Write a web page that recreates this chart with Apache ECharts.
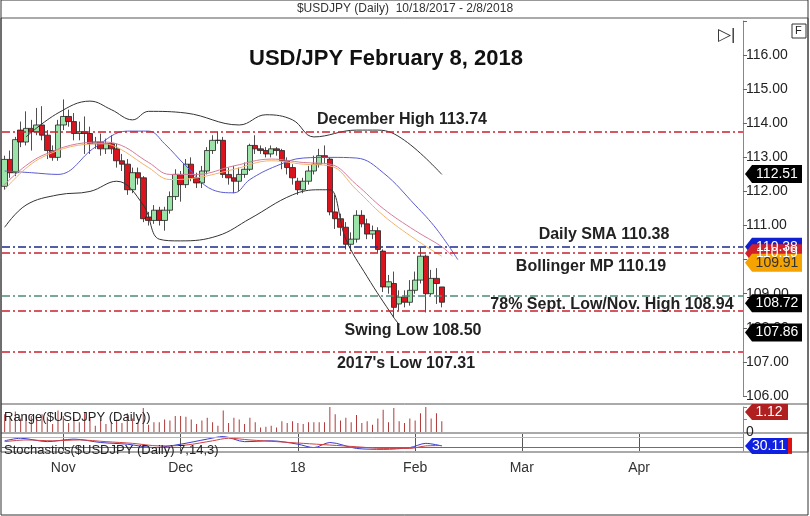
<!DOCTYPE html>
<html><head><meta charset="utf-8">
<script src="https://cdn.jsdelivr.net/npm/echarts@6/dist/echarts.min.js"></script>
<style>html,body{margin:0;padding:0;background:#fff}#c{width:810px;height:516px}</style>
</head><body><div id="c"></div>
<script>
// [open, close, low, high]
const candles = [
[112.15,112.94,112.05,113.05],[112.94,112.55,112.40,113.20],[112.55,113.52,112.45,113.60],[113.80,113.45,113.30,114.05],
[113.45,113.85,113.35,114.35],[113.85,113.75,113.20,114.10],[113.75,113.95,113.65,114.45],[113.95,113.65,113.50,114.50],
[113.65,113.20,112.95,113.80],[113.20,113.00,112.90,113.35],[113.00,113.95,112.90,114.10],[113.95,114.20,113.80,114.70],
[114.20,114.05,113.90,114.40],[114.05,113.70,113.50,114.30],[113.70,113.75,113.50,114.05],[113.75,113.70,113.10,114.20],
[113.70,113.40,113.10,113.90],[113.40,113.45,113.25,113.60],[113.45,113.25,113.05,113.70],[113.25,113.40,113.10,113.55],
[113.40,113.25,113.10,113.65],[113.25,112.90,112.70,113.40],[112.90,112.80,112.60,113.10],[112.80,112.05,111.90,112.95],
[112.05,112.55,111.95,112.70],[112.55,112.40,112.20,112.70],[112.40,111.20,111.10,112.45],[111.25,111.15,111.00,111.40],
[111.15,111.45,111.05,111.60],[111.45,111.15,111.00,111.55],[111.15,111.45,110.85,111.55],[111.45,111.85,111.35,112.00],
[111.85,112.50,111.75,112.65],[112.50,112.20,111.70,112.60],[112.20,112.80,112.10,112.95],[112.80,112.40,112.30,113.00],
[112.40,112.25,112.10,112.55],[112.25,112.60,112.10,112.75],[112.60,113.20,112.50,113.30],[113.20,113.50,113.10,113.65],
[113.50,113.50,113.40,113.75],[113.50,112.50,112.40,113.60],[112.50,112.40,112.20,112.70],[112.40,112.30,111.95,112.75],
[112.30,112.50,112.00,112.70],[112.50,112.65,112.40,112.85],[112.65,113.35,112.60,113.40],[113.35,113.25,113.10,113.65],
[113.25,113.20,113.10,113.35],[113.20,113.10,113.00,113.30],[113.10,113.25,113.00,113.35],[113.25,113.20,113.05,113.30],
[113.20,112.90,112.65,113.25],[112.90,112.70,112.50,113.00],[112.70,112.40,112.20,112.80],[112.30,112.05,111.90,112.40],
[112.05,112.30,111.95,112.40],[112.30,112.60,112.20,112.75],[112.60,112.80,112.50,113.05],[112.80,113.05,112.70,113.25],
[113.05,113.00,112.80,113.35],[112.95,111.40,111.30,113.00],[111.40,111.20,110.90,111.90],[111.20,110.95,110.70,111.35],
[110.95,110.45,110.30,111.10],[110.45,110.60,110.25,110.80],[110.60,111.30,110.50,111.45],[111.30,111.05,110.95,111.45],
[111.05,110.75,110.60,111.20],[110.75,110.85,110.60,111.00],[110.85,110.30,110.20,110.95],[110.25,109.20,109.05,110.30],
[109.20,109.35,109.00,109.55],[109.30,108.60,108.30,109.65],[108.70,108.90,108.50,109.10],[108.90,108.75,108.60,109.10],
[108.75,109.10,108.65,109.40],[109.10,109.40,109.00,109.65],[109.40,110.10,109.30,110.35],[110.10,109.00,108.45,110.15],
[109.00,109.45,108.95,109.70],[109.45,109.30,108.70,109.75],[109.20,108.75,108.60,109.20]
];
// sampled indicator points [index, value]
const bbUpper = [[4,113.6],[10,114.3],[16,114.65],[20,114.4],[24,114.1],[27,114.35],[34,114.3],[44,113.95],[49,114.25],[54,114.1],[58,113.6],[66,113.8],[70,113.8],[75,113.5],[82,112.5]];
const bbLower = [[0,110.95],[4,111.6],[10,111.9],[16,112.0],[21,112.3],[26,111.6],[29,110.6],[33,110.55],[40,110.7],[46,111.2],[54,111.9],[59,112.05],[61,112.05],[64,110.6],[68,109.5],[73,108.3],[74,108.1]];
const bbMid = [[0,112.6],[5,112.55],[10,112.5],[17,113.3],[23,113.77],[27,113.77],[30,113.4],[34,112.75],[39,112.05],[43,111.96],[46,112.35],[51,112.75],[56,112.98],[61,113.0],[66,112.98],[71,112.55],[77,111.6],[81,110.9],[85,110.0]];
const emaFast = [[0,112.05],[7,113.0],[18,113.4],[21,113.3],[27,112.7],[31,112.35],[36,112.4],[43,112.65],[50,112.9],[56,112.8],[61,112.75],[66,112.05],[71,111.3],[77,110.6],[82,110.1]];
const emaSlow = [[0,112.2],[7,113.05],[18,113.45],[21,113.4],[27,112.85],[31,112.5],[36,112.5],[43,112.75],[50,112.95],[56,112.85],[61,112.8],[66,112.2],[71,111.5],[77,110.85],[82,110.38],[84,110.1]];
const stochK = [[0,60],[3,75],[8,55],[13,70],[18,50],[23,40],[28,20],[33,40],[38,70],[41,85],[45,55],[50,60],[55,40],[58,20],[61,50],[66,15],[71,10],[76,20],[79,45],[82,30]];
const stochD = [[0,55],[4,65],[9,60],[14,65],[19,55],[24,45],[29,30],[34,35],[39,60],[42,75],[46,65],[51,55],[56,45],[61,35],[66,25],[71,15],[76,15],[79,30],[82,32]];
const levels = [
 {v:113.74,c:'#cc1f2b',t:'December High 113.74',x:402,y:120},
 {v:110.38,c:'#1a2a8a',t:'Daily SMA 110.38',x:604,y:235},
 {v:110.19,c:'#cc1f2b',t:'Bollinger MP 110.19',x:591,y:267},
 {v:108.94,c:'#4f8a78',t:'78% Sept. Low/Nov. High 108.94',x:612,y:305},
 {v:108.50,c:'#cc1f2b',t:'Swing Low 108.50',x:413,y:331},
 {v:107.31,c:'#cc1f2b',t:"2017's Low 107.31",x:406,y:364}
];
const tags = [
 {v:112.51,bg:'#000',fg:'#fff'},{v:110.38,bg:'#1020d0',fg:'#fff'},{v:110.19,bg:'#d0202a',fg:'#fff'},
 {v:109.91,bg:'#f5a300',fg:'#333'},{v:108.72,bg:'#000',fg:'#fff'},{v:107.86,bg:'#000',fg:'#fff'}
];
const monthLabels = {'2017-11-01':'Nov','2017-12-01':'Dec','2018-01-02':'18','2018-02-01':'Feb','2018-03-01':'Mar','2018-04-02':'Apr'};

const dates=[]; {let d=new Date(Date.UTC(2017,9,17)); const end=Date.UTC(2018,3,27);
 while(d.getTime()<=end){const w=d.getUTCDay(); if(w!==0&&w!==6) dates.push(d.toISOString().slice(0,10)); d=new Date(d.getTime()+86400000);}}
const pts = a => a.map(p=>[dates[p[0]],p[1]]);
const rangeVals = candles.map(c=>+(c[3]-c[2]).toFixed(2));

const chart=echarts.init(document.getElementById('c'),null,{renderer:'canvas'});
const dd=[8,3,2,3];
const gl={left:2,right:67};
const xBase={type:'category',data:dates,boundaryGap:true,axisLine:{show:false},axisTick:{show:false},axisLabel:{show:false},splitLine:{show:false}};
const F='Liberation Sans';
chart.setOption({
 animation:false,
 title:{text:'USD/JPY February 8, 2018',left:381,top:43,textAlign:'center',textStyle:{fontFamily:F,fontWeight:'bold',fontSize:22,color:'#111'}},
 grid:[{...gl,top:21,height:375},{...gl,top:407,height:25},{...gl,top:434,height:17}],
 xAxis:[{...xBase,gridIndex:0},{...xBase,gridIndex:1},{...xBase,gridIndex:2,
   axisTick:{show:true,alignWithLabel:true,interval:(i,v)=>!!monthLabels[v],length:-17,lineStyle:{color:'#555'}},
   axisLabel:{show:true,interval:(i,v)=>!!monthLabels[v],formatter:v=>monthLabels[v]||'',color:'#333',fontFamily:F,fontSize:14,margin:10}}],
 yAxis:[
  {type:'value',gridIndex:0,position:'right',min:106,max:117,interval:1,
   axisLine:{show:true,lineStyle:{color:'#888'}},axisTick:{show:true,length:4,lineStyle:{color:'#666'}},splitLine:{show:false},
   axisLabel:{formatter:v=>v>=116.5?'':v.toFixed(2),color:'#222',fontFamily:F,fontSize:14,margin:3}},
  {type:'value',gridIndex:1,position:'right',min:0,max:1.4,interval:0.7,axisLine:{show:true,lineStyle:{color:'#888'}},
   axisTick:{show:true,length:4},splitLine:{show:false},axisLabel:{formatter:v=>v===0?'0':'',color:'#222',fontSize:14,fontFamily:F,margin:3}},
  {type:'value',gridIndex:2,position:'right',min:0,max:100,axisLine:{show:true,lineStyle:{color:'#888'}},axisTick:{show:false},axisLabel:{show:false},
   splitLine:{show:false}}
 ],
 series:[
  {type:'candlestick',xAxisIndex:0,yAxisIndex:0,data:candles,barWidth:6,
   itemStyle:{color:'#9be3a8',color0:'#d9141f',borderColor:'#222',borderColor0:'#222',borderWidth:0.8},
   markLine:{symbol:'none',silent:true,label:{show:false},
    data:levels.map(l=>({yAxis:l.v,lineStyle:{color:l.c,type:dd,width:1.6}}))}},
  {type:'line',data:pts(bbUpper),smooth:0.4,symbol:'none',lineStyle:{color:'#333',width:1}},
  {type:'line',data:pts(bbLower),smooth:0.4,symbol:'none',lineStyle:{color:'#333',width:1}},
  {type:'line',data:pts(bbMid),smooth:0.4,symbol:'none',lineStyle:{color:'#5a5ad0',width:1}},
  {type:'line',data:pts(emaFast),smooth:0.4,symbol:'none',lineStyle:{color:'#f2b36a',width:1}},
  {type:'line',data:pts(emaSlow),smooth:0.4,symbol:'none',lineStyle:{color:'#d67a9a',width:1}},
  {type:'bar',xAxisIndex:1,yAxisIndex:1,data:rangeVals,barWidth:1,itemStyle:{color:'#b03a3a'}},
  {type:'line',xAxisIndex:2,yAxisIndex:2,data:pts(stochK),smooth:0.3,symbol:'none',lineStyle:{color:'#3a3ad0',width:1},
   markLine:{symbol:'none',silent:true,label:{show:false},data:[{yAxis:80,lineStyle:{color:'#c8c070',type:'solid',width:1}},{yAxis:20,lineStyle:{color:'#9a4ac0',type:'solid',width:1}}]}},
  {type:'line',xAxisIndex:2,yAxisIndex:2,data:pts(stochD),smooth:0.3,symbol:'none',lineStyle:{color:'#d04040',width:1}}
 ]
});
const g=[];
g.push({type:'text',x:405,y:3,style:{text:'$USDJPY (Daily)  10/18/2017 - 2/8/2018',fill:'#333',font:'12px '+F,textAlign:'center'},z:10});
g.push({type:'rect',shape:{x:1,y:18,width:807,height:434},style:{fill:'none',stroke:'#555',lineWidth:1}});
g.push({type:'line',shape:{x1:1,y1:404,x2:808,y2:404},style:{stroke:'#555',lineWidth:1}});
g.push({type:'line',shape:{x1:1,y1:433,x2:808,y2:433},style:{stroke:'#555',lineWidth:1}});
g.push({type:'rect',shape:{x:1,y:0,width:807,height:515},style:{fill:'none',stroke:'#333',lineWidth:1}});
g.push({type:'rect',shape:{x:792,y:24,width:14,height:14},style:{fill:'#fff',stroke:'#333'}});
g.push({type:'text',x:795,y:25,style:{text:'F',font:'11px '+F,fill:'#222'}});
g.push({type:'text',x:718,y:27,style:{text:'▷|',font:'17px '+F,fill:'#333'}});
levels.forEach(l=>g.push({type:'text',x:l.x,y:l.y,style:{text:l.t,font:'bold 16px '+F,fill:'#222',textAlign:'center',textVerticalAlign:'middle'},z:10}));
tags.forEach(t=>{const y=chart.convertToPixel({yAxisIndex:0},t.v);
 g.push({type:'polygon',shape:{points:[[745,y],[752,y-9],[802,y-9],[802,y+9],[752,y+9]]},style:{fill:t.bg},z:20});
 g.push({type:'text',x:777,y:y,style:{text:t.v.toFixed(2),font:'14px '+F,fill:t.fg,textAlign:'center',textVerticalAlign:'middle'},z:21});});
{const y=chart.convertToPixel({yAxisIndex:1},1.12);
 g.push({type:'polygon',shape:{points:[[745,y],[752,y-8],[788,y-8],[788,y+8],[752,y+8]]},style:{fill:'#b02020'},z:20});
 g.push({type:'text',x:769,y:y,style:{text:'1.12',font:'14px '+F,fill:'#fff',textAlign:'center',textVerticalAlign:'middle'},z:21});}
{const y=chart.convertToPixel({yAxisIndex:2},30.11);
 g.push({type:'polygon',shape:{points:[[745,y],[752,y-8],[788,y-8],[788,y+8],[752,y+8]]},style:{fill:'#1020e0'},z:20});
 g.push({type:'rect',shape:{x:788,y:y-8,width:4,height:16},style:{fill:'#e01010'},z:20});
 g.push({type:'text',x:769,y:y,style:{text:'30.11',font:'14px '+F,fill:'#fff',textAlign:'center',textVerticalAlign:'middle'},z:21});}
g.push({type:'text',x:4,y:411,style:{text:'Range($USDJPY (Daily))',font:'13px '+F,fill:'#222'},z:10});
g.push({type:'text',x:4,y:444,style:{text:'Stochastics($USDJPY (Daily) 7,14,3)',font:'13px '+F,fill:'#222'},z:10});
chart.setOption({graphic:g});
</script></body></html>
